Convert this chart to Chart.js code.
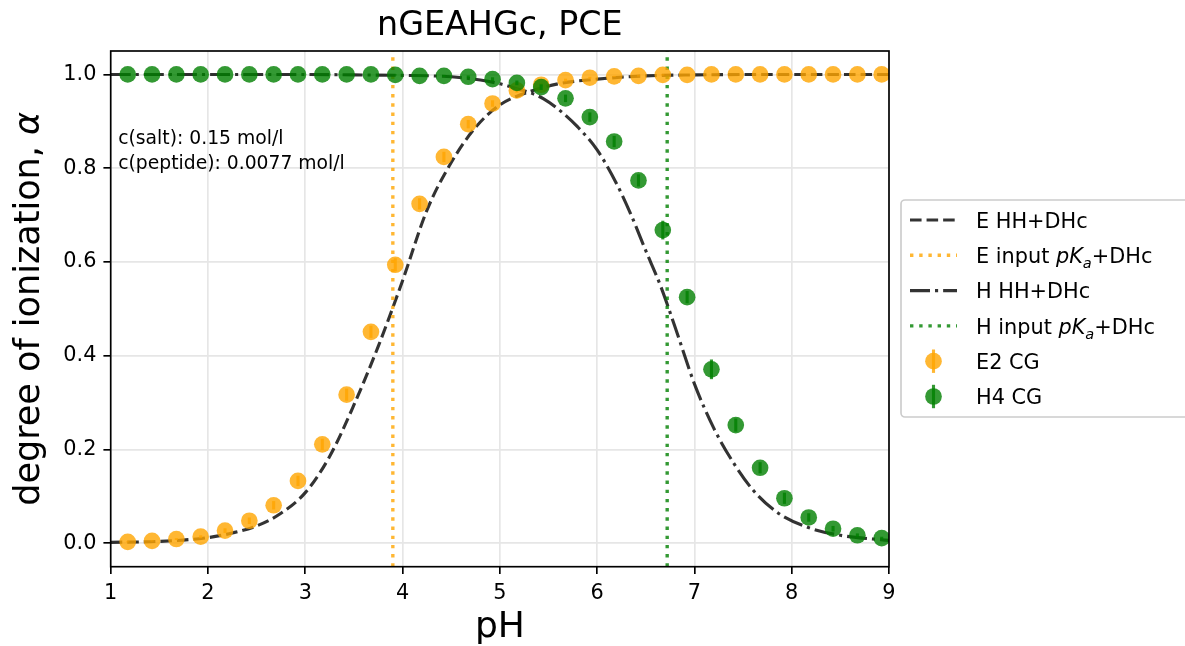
<!DOCTYPE html>
<html>
<head>
<meta charset="utf-8">
<title>nGEAHGc, PCE</title>
<script src="https://cdn.jsdelivr.net/npm/chart.js@4.4.1/dist/chart.umd.min.js"></script>
<style>
    html, body { margin: 0; padding: 0; background: #fff; }
    #wrap { width: 1185px; height: 646px; }
</style>
</head>
<body>
<div id="wrap"><canvas id="ionChart" width="1185" height="646"></canvas></div>
<script>
// CG simulation points (pH, degree of ionization, error)
const phPoints = [1.175, 1.425, 1.675, 1.925, 2.175, 2.425, 2.675, 2.925, 3.175, 3.425, 3.675, 3.925,
    4.175, 4.425, 4.675, 4.925, 5.175, 5.425, 5.675, 5.925, 6.175, 6.425, 6.675, 6.925,
    7.175, 7.425, 7.675, 7.925, 8.175, 8.425, 8.675, 8.925];
const e2Alpha = [0.003, 0.005, 0.009, 0.014, 0.027, 0.048, 0.081, 0.133, 0.211, 0.317, 0.451, 0.594,
    0.724, 0.824, 0.894, 0.938, 0.966, 0.978, 0.988, 0.993, 0.996, 0.997, 0.999, 0.999,
    1.0, 1.0, 1.0, 1.0, 1.0, 1.0, 1.0, 1.0];
const e2Err = [0.001, 0.001, 0.002, 0.003, 0.005, 0.007, 0.009, 0.011, 0.012, 0.013, 0.013, 0.014,
    0.012, 0.011, 0.009, 0.007, 0.005, 0.004, 0.003, 0.002, 0.001, 0.001, 0.001, 0,
    0, 0, 0, 0, 0, 0, 0, 0];
const h4Alpha = [1.0, 1.0, 1.0, 1.0, 1.0, 1.0, 1.0, 1.0, 1.0, 1.0, 1.0, 0.999,
    0.997, 0.997, 0.995, 0.990, 0.982, 0.973, 0.949, 0.909, 0.857, 0.774, 0.668, 0.525,
    0.371, 0.252, 0.161, 0.096, 0.055, 0.031, 0.017, 0.011];
const h4Err = [0, 0, 0, 0, 0, 0, 0, 0, 0, 0, 0, 0.001,
    0.001, 0.002, 0.003, 0.004, 0.005, 0.006, 0.008, 0.010, 0.012, 0.013, 0.020, 0.013,
    0.021, 0.014, 0.012, 0.012, 0.009, 0.006, 0.004, 0.003];

// HH+DHc curves
const eCurvePh = [1.0, 1.5, 2.0, 2.25, 2.5, 2.75, 3.0, 3.25, 3.5, 3.75, 4.0, 4.25, 4.5, 4.75, 5.0, 5.3, 5.6, 6.0, 6.5, 7.0, 8.0, 9.0];
const eCurveAlpha = [0.002, 0.004, 0.012, 0.022, 0.037, 0.064, 0.108, 0.185, 0.295, 0.42, 0.56, 0.71, 0.812, 0.887, 0.935, 0.963, 0.98, 0.99, 0.997, 0.999, 1.0, 1.0];
const hCurvePh = [1.0, 2.0, 3.0, 3.5, 4.0, 4.5, 4.8, 5.0, 5.2, 5.3, 5.45, 5.6, 5.8, 6.0, 6.2, 6.35, 6.5, 6.65, 6.8, 7.0, 7.2, 7.4, 7.6, 7.85, 8.15, 8.5, 9.0];
const hCurveAlpha = [1.0, 1.0, 1.0, 0.999, 0.998, 0.995, 0.988, 0.98, 0.968, 0.962, 0.948, 0.926, 0.888, 0.839, 0.767, 0.70, 0.624, 0.55, 0.462, 0.34, 0.245, 0.172, 0.114, 0.066, 0.035, 0.017, 0.006];

// input pKa values
const ePka = 3.9;
const hPka = 6.72;

const xTicks = [1, 2, 3, 4, 5, 6, 7, 8, 9];
const yTicks = [0.0, 0.2, 0.4, 0.6, 0.8, 1.0];
const xRange = [1, 9];
const yRange = [-0.05, 1.05];

const infoLines = ['c(salt): 0.15 mol/l', 'c(peptide): 0.0077 mol/l'];
const yLabel = [['degree of ionization, ', 'n'], ['α', 'i']];

const PT = 150 / 72; // matplotlib points -> px
const orange = 'rgba(255,165,0,0.8)';
const green = 'rgba(0,128,0,0.8)';
const curveColor = 'rgba(0,0,0,0.8)';
const dashE = [3.7 * 1.5 * PT, 1.6 * 1.5 * PT];
const dashH = [6.4 * 1.5 * PT, 1.6 * 1.5 * PT, 1 * 1.5 * PT, 1.6 * 1.5 * PT];
const dotV = [3.4, 5.8];
const FONT = '"DejaVu Sans", "Liberation Sans", sans-serif';

Chart.defaults.font.family = FONT;
Chart.defaults.color = '#000';

function pairs(xs, ys) {
    return xs.map((x, i) => ({ x: x, y: ys[i] }));
}

function setFont(ctx, style, size) {
    if (style === 'n') ctx.font = size + 'px ' + FONT;
    else if (style === 'i') ctx.font = 'italic ' + size + 'px ' + FONT;
    else ctx.font = 'italic ' + (size * 0.7) + 'px ' + FONT;
}

function runsWidth(ctx, runs, size) {
    let w = 0;
    runs.forEach(([t, s]) => { setFont(ctx, s, size); w += ctx.measureText(t).width; });
    return w;
}

const errorBars = {
    id: 'errorBars',
    afterDatasetDraw(chart, args) {
        const ds = chart.data.datasets[args.index];
        if (!ds.errors) return;
        const ctx = chart.ctx;
        const xs = chart.scales.x, ys = chart.scales.y;
        ctx.save();
        ctx.strokeStyle = ds.backgroundColor;
        ctx.lineWidth = 1.5 * PT;
        ds.data.forEach((p, i) => {
            const e = ds.errors[i];
            if (!e) return;
            const px = xs.getPixelForValue(p.x);
            ctx.beginPath();
            ctx.moveTo(px, ys.getPixelForValue(p.y - e));
            ctx.lineTo(px, ys.getPixelForValue(p.y + e));
            ctx.stroke();
        });
        ctx.restore();
    }
};

const frameAndLegend = {
    id: 'frameAndLegend',
    afterDraw(chart) {
        const ctx = chart.ctx;
        const a = chart.chartArea;
        ctx.save();
        // spines
        ctx.strokeStyle = '#000';
        ctx.lineWidth = 0.8 * PT;
        ctx.strokeRect(a.left, a.top, a.right - a.left, a.bottom - a.top);

        // y axis label with italic alpha
        const ls = 35;
        ctx.save();
        ctx.translate(29.6, (a.top + a.bottom) / 2);
        ctx.rotate(-Math.PI / 2);
        ctx.fillStyle = '#000';
        ctx.textBaseline = 'middle';
        ctx.textAlign = 'left';
        let lx = -runsWidth(ctx, yLabel, ls) / 2;
        yLabel.forEach(([t, s]) => {
            setFont(ctx, s, ls);
            ctx.fillText(t, lx, 0);
            lx += ctx.measureText(t).width;
        });
        ctx.restore();

        // info text
        ctx.fillStyle = '#000';
        ctx.font = (9 * PT) + 'px ' + FONT;
        ctx.textBaseline = 'alphabetic';
        ctx.textAlign = 'left';
        ctx.fillText(infoLines[0], a.left + 7.5, a.top + 92.5);
        ctx.fillText(infoLines[1], a.left + 7.5, a.top + 117.5);

        // legend
        const bx = 901, by = 200, bw = 300, bh = 217;
        ctx.beginPath();
        ctx.roundRect(bx, by, bw, bh, 4);
        ctx.fillStyle = 'rgba(255,255,255,0.8)';
        ctx.fill();
        ctx.strokeStyle = '#cccccc';
        ctx.lineWidth = 0.8 * PT;
        ctx.stroke();

        const fs = 10 * PT;
        const rows = [
            { type: 'line', color: curveColor, dash: dashE, lw: 1.5 * PT, text: [['E HH+DHc', 'n']] },
            { type: 'line', color: orange, dash: dotV, lw: 3.4, text: [['E input ', 'n'], ['pK', 'i'], ['a', 's'], ['+DHc', 'n']] },
            { type: 'line', color: curveColor, dash: dashH, lw: 1.5 * PT, text: [['H HH+DHc', 'n']] },
            { type: 'line', color: green, dash: dotV, lw: 3.4, text: [['H input ', 'n'], ['pK', 'i'], ['a', 's'], ['+DHc', 'n']] },
            { type: 'point', color: orange, text: [['E2 CG', 'n']] },
            { type: 'point', color: green, text: [['H4 CG', 'n']] }
        ];
        rows.forEach((r, i) => {
            const cy = by + 20 + i * 35.3;
            const hx0 = 910, hx1 = 957;
            if (r.type === 'line') {
                ctx.save();
                ctx.strokeStyle = r.color;
                ctx.lineWidth = r.lw;
                ctx.setLineDash(r.dash);
                ctx.beginPath();
                ctx.moveTo(hx0, cy);
                ctx.lineTo(hx1, cy);
                ctx.stroke();
                ctx.restore();
            } else {
                const cx = (hx0 + hx1) / 2;
                ctx.fillStyle = r.color;
                ctx.beginPath();
                ctx.arc(cx, cy, 4 * PT, 0, Math.PI * 2);
                ctx.fill();
                ctx.strokeStyle = r.color;
                ctx.lineWidth = 1.5 * PT;
                ctx.beginPath();
                ctx.moveTo(cx, cy - 11.7);
                ctx.lineTo(cx, cy + 11.7);
                ctx.stroke();
            }
            let tx = 976;
            const base = cy + 7.6;
            ctx.fillStyle = '#000';
            r.text.forEach(([t, s]) => {
                setFont(ctx, s, fs);
                ctx.fillText(t, tx, s === 's' ? base + 5 : base);
                tx += ctx.measureText(t).width;
            });
        });
        ctx.restore();
    }
};

const ctx = document.getElementById('ionChart').getContext('2d');
new Chart(ctx, {
    type: 'line',
    data: {
        datasets: [
            {
                label: 'E2 CG',
                type: 'scatter',
                data: pairs(phPoints, e2Alpha),
                errors: e2Err,
                backgroundColor: orange,
                borderWidth: 0,
                pointRadius: 4 * PT,
                pointHoverRadius: 4 * PT,
                order: 1
            },
            {
                label: 'H4 CG',
                type: 'scatter',
                data: pairs(phPoints, h4Alpha),
                errors: h4Err,
                backgroundColor: green,
                borderWidth: 0,
                pointRadius: 4 * PT,
                pointHoverRadius: 4 * PT,
                order: 0
            },
            {
                label: 'E HH+DHc',
                data: pairs(eCurvePh, eCurveAlpha),
                borderColor: curveColor,
                borderWidth: 1.5 * PT,
                borderDash: dashE,
                borderCapStyle: 'butt',
                cubicInterpolationMode: 'monotone',
                pointRadius: 0,
                fill: false,
                order: 5
            },
            {
                label: 'E input pKa+DHc',
                data: [{ x: ePka, y: yRange[0] }, { x: ePka, y: yRange[1] }],
                borderColor: orange,
                borderWidth: 3.4,
                borderDash: dotV,
                borderCapStyle: 'butt',
                pointRadius: 0,
                fill: false,
                order: 4
            },
            {
                label: 'H HH+DHc',
                data: pairs(hCurvePh, hCurveAlpha),
                borderColor: curveColor,
                borderWidth: 1.5 * PT,
                borderDash: dashH,
                borderCapStyle: 'butt',
                cubicInterpolationMode: 'monotone',
                pointRadius: 0,
                fill: false,
                order: 3
            },
            {
                label: 'H input pKa+DHc',
                data: [{ x: hPka, y: yRange[0] }, { x: hPka, y: yRange[1] }],
                borderColor: green,
                borderWidth: 3.4,
                borderDash: dotV,
                borderCapStyle: 'butt',
                pointRadius: 0,
                fill: false,
                order: 2
            }
        ]
    },
    options: {
        responsive: false,
        animation: false,
        events: [],
        layout: { padding: { left: 0, right: 296, top: 0, bottom: 0 } },
        plugins: {
            legend: { display: false },
            tooltip: { enabled: false },
            title: {
                display: true,
                text: 'nGEAHGc, PCE',
                fullSize: false,
                font: { size: 16 * PT, weight: 'normal', lineHeight: 1.2 },
                padding: { top: 6, bottom: 5 },
                color: '#000'
            }
        },
        scales: {
            x: {
                type: 'linear',
                min: xRange[0],
                max: xRange[1],
                afterBuildTicks: (scale) => { scale.ticks = xTicks.map(v => ({ value: v })); },
                afterFit: (scale) => { scale.height = 79.3; },
                ticks: {
                    font: { size: 10 * PT },
                    color: '#000',
                    padding: 7,
                    callback: (v) => String(v)
                },
                grid: {
                    color: '#e6e6e6',
                    lineWidth: 0.8 * PT,
                    tickColor: '#000',
                    tickWidth: 0.8 * PT,
                    tickLength: 3.5 * PT
                },
                border: { display: false },
                title: {
                    display: true,
                    text: 'pH',
                    font: { size: 36, lineHeight: 1.0 },
                    padding: { top: 0, bottom: 0 },
                    color: '#000'
                }
            },
            y: {
                type: 'linear',
                min: yRange[0],
                max: yRange[1],
                afterBuildTicks: (scale) => { scale.ticks = yTicks.map(v => ({ value: v })); },
                afterFit: (scale) => { scale.width = 110.7; },
                ticks: {
                    font: { size: 10 * PT },
                    color: '#000',
                    padding: 7,
                    callback: (v) => Number(v).toFixed(1)
                },
                grid: {
                    color: '#e6e6e6',
                    lineWidth: 0.8 * PT,
                    tickColor: '#000',
                    tickWidth: 0.8 * PT,
                    tickLength: 3.5 * PT
                },
                border: { display: false },
                title: { display: false }
            }
        }
    },
    plugins: [errorBars, frameAndLegend]
});
</script>
</body>
</html>
